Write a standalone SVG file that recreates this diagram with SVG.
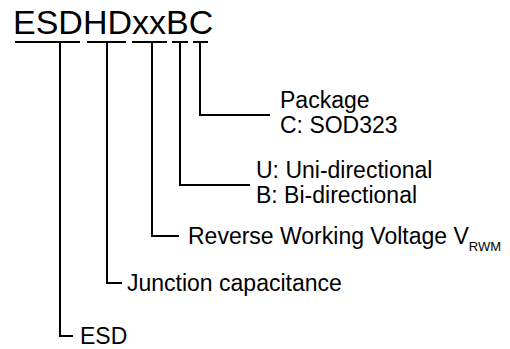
<svg xmlns="http://www.w3.org/2000/svg" width="510" height="349" viewBox="0 0 510 349">
<style>
text{font-family:"Liberation Sans",Arial,sans-serif;fill:#000}
.t{font-size:34px}
.l{font-size:23px}
.s{font-size:13px}
line,polyline{stroke:#000;stroke-width:2;fill:none}
</style>
<rect width="510" height="349" fill="#fff"/>
<g id="title">
<text class="t" x="13" y="34">ESDHDxxBC</text>
</g>
<g id="connectors">
<line x1="15" y1="42" x2="80" y2="42"/>
<line x1="87" y1="42" x2="126" y2="42"/>
<line x1="132" y1="42" x2="167" y2="42"/>
<line x1="172" y1="42" x2="188" y2="42"/>
<line x1="193" y1="42" x2="208" y2="42"/>
<polyline points="60,42 60,336 73,336"/>
<polyline points="107,42 107,283 122,283"/>
<polyline points="152,42 152,236 179,236"/>
<polyline points="180,42 180,185 250,185"/>
<polyline points="200,42 200,115 270,115"/>
</g>
<g id="package">
<text class="l" x="280" y="108">Package</text>
<text class="l" x="280" y="133">C: SOD323</text>
</g>
<g id="direction">
<text class="l" x="256" y="178">U: Uni-directional</text>
<text class="l" x="256" y="203">B: Bi-directional</text>
</g>
<g id="voltage">
<text class="l" x="188" y="244">Reverse Working Voltage V<tspan class="s" dy="7">RWM</tspan></text>
</g>
<g id="capacitance">
<text class="l" x="127" y="291">Junction capacitance</text>
</g>
<g id="esd">
<text class="l" x="80" y="344">ESD</text>
</g>
</svg>
